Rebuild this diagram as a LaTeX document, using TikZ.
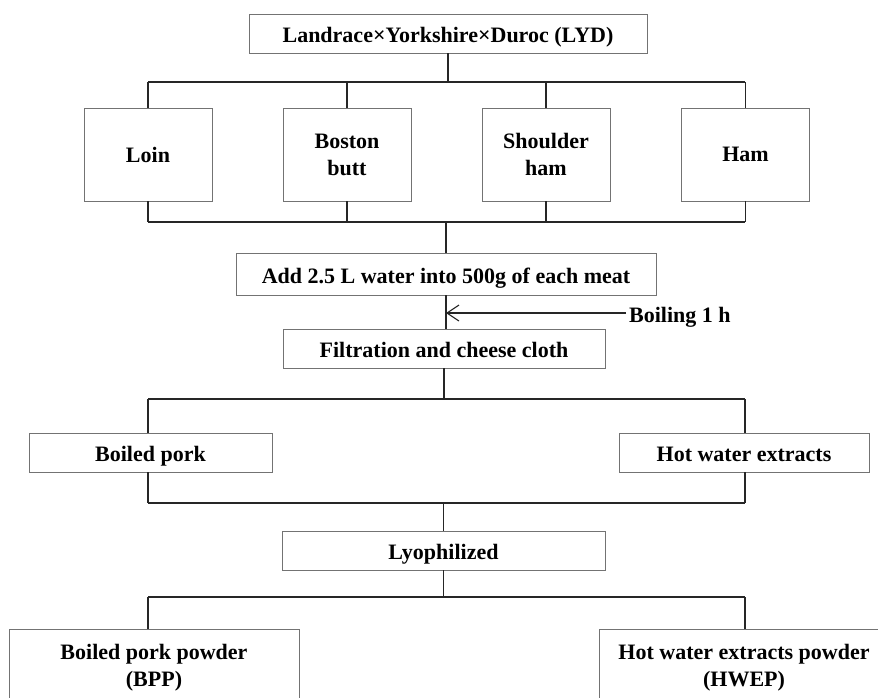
\documentclass[tikz,border=0pt]{standalone}
\usepackage{fontspec}
\setmainfont{Liberation Serif}
\usetikzlibrary{arrows.meta}
\begin{document}
\begin{tikzpicture}[x=1pt,y=-1pt,
	box/.style={draw=black!55,line width=0.9pt,align=center,inner sep=0pt,font=\fontsize{22}{27}\selectfont\bfseries},
	oneline/.style={text height=21pt,text depth=2.5pt},
	link/.style={draw=black!85,line width=1.1pt}]
			\clip (0,0) rectangle (878,697);
			\useasboundingbox (0,0) rectangle (878,697);
			\node[box,oneline,minimum width=398pt,minimum height=39pt] (lyd) at (448,33.5) {Landrace×Yorkshire×Duroc (LYD)};
			\foreach \nm/\xx/\txt in {loin/148/Loin,boston/347/Boston\\butt,shoulder/546/Shoulder\\ham,ham/745.5/Ham}{
				\node[box,minimum width=128pt,minimum height=93pt] (\nm) at (\xx,154.5) {\txt};
			}
			\node[box,oneline,minimum width=420pt,minimum height=42pt] (add) at (446,274) {Add 2.5 L water into 500g of each meat};
			\node[box,oneline,minimum width=322pt,minimum height=39pt] (filt) at (444,348.5) {Filtration and cheese cloth};
			\node[anchor=west,inner sep=0pt,oneline,font=\fontsize{22}{27}\selectfont\bfseries] (boil) at (629,313) {Boiling 1 h};
			\node[box,oneline,minimum width=243pt,minimum height=39pt] (boiled) at (150.5,452.5) {Boiled pork};
			\node[box,oneline,minimum width=250pt,minimum height=39pt] (hwe) at (744,452.5) {Hot water extracts};
			\node[box,oneline,minimum width=323pt,minimum height=39pt] (lyo) at (443.5,550.5) {Lyophilized};
			\node[box,minimum width=290pt,minimum height=78pt] (bpp) at (154,668) {Boiled pork powder\\(BPP)};
			\node[box,minimum width=290pt,minimum height=78pt] (hwep) at (744,668) {Hot water extracts powder\\(HWEP)};

			\foreach \k/\yy in {1/82,2/222,3/399,4/503,5/597}{
				\coordinate (l\k) at (148,\yy);
				\coordinate (r\k) at (745,\yy);
				\draw[link] (l\k) -- (r\k);
			}
			\draw[link] (lyd.south) -- (lyd.south |- l1);
			\foreach \nm in {loin,boston,shoulder,ham}{
				\draw[link] (\nm.north) -- (\nm.north |- l1);
				\draw[link] (\nm.south) -- (\nm.south |- l2);
			}
			\draw[link] (add.north) -- (add.north |- l2);
			\draw[link] (add.south) -- (add.south |- filt.north);
			\draw[link,-{Straight Barb[length=12pt,width=16pt]}] ([xshift=-3pt]boil.west) -- (boil.west -| add.south);
			\draw[link] (filt.south) -- (filt.south |- l3);
			\draw[link] (l3) -- (l3 |- boiled.north);
			\draw[link] (r3) -- (r3 |- hwe.north);
			\draw[link] (l4 |- boiled.south) -- (l4);
			\draw[link] (r4 |- hwe.south) -- (r4);
			\draw[link] (lyo.north) -- (lyo.north |- l4);
			\draw[link] (lyo.south) -- (lyo.south |- l5);
			\draw[link] (l5) -- (l5 |- bpp.north);
			\draw[link] (r5) -- (r5 |- hwep.north);
\end{tikzpicture}
\end{document}
